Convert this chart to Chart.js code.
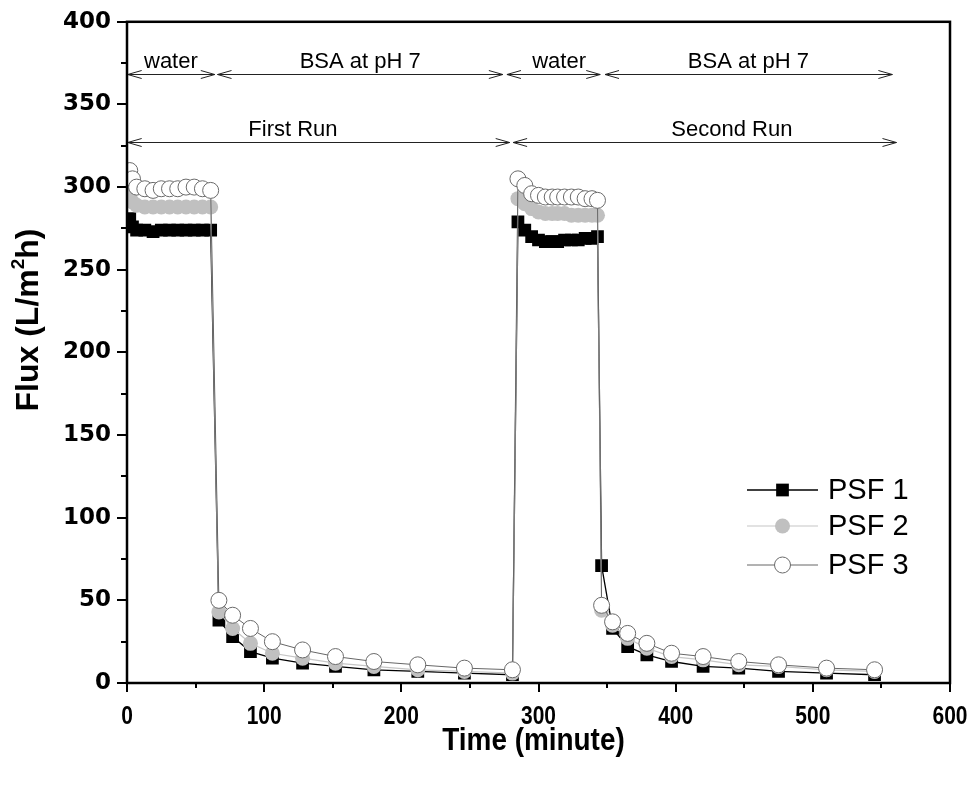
<!DOCTYPE html>
<html>
<head>
<meta charset="utf-8">
<script src="https://cdn.jsdelivr.net/npm/chart.js@4.4.0/dist/chart.umd.min.js"></script>
<style>
  html, body { margin: 0; padding: 0; background: #fff; }
</style>
</head>
<body>
<canvas id="fluxChart" width="975" height="787"></canvas>
<script>
// sampling times (minute), shared by the three membranes
var timeMin = [2, 4, 7, 13, 19, 25, 31, 37, 43, 49, 55, 61,
  67, 77, 90, 106, 128, 152, 180, 212, 246, 281,
  285, 290, 295, 300, 305, 310, 314, 319, 324, 329, 334, 339, 343,
  346, 354, 365, 379, 397, 420, 446, 475, 510, 545];

// flux (L/m2h)
var psf1 = [281, 276, 274, 274, 273, 274, 274, 274, 274, 274, 274, 274,
  38, 28, 19, 15, 12, 10, 8, 7, 6, 5,
  279, 274, 270, 268, 267, 267, 267, 268, 268, 268, 269, 269, 270,
  71, 33, 22, 17, 13, 10, 9, 7, 6, 5];
var psf2 = [295, 291, 289, 288, 288, 288, 288, 288, 288, 288, 288, 288,
  43, 33, 24, 18, 15, 12, 10, 8, 7, 6,
  293, 290, 287, 285, 284, 284, 284, 284, 283, 283, 283, 283, 283,
  44, 35, 27, 21, 16, 14, 11, 10, 8, 7];
var psf3 = [310, 305, 300, 299, 298, 299, 299, 299, 300, 300, 299, 298,
  50, 41, 33, 25, 20, 16, 13, 11, 9, 8,
  305, 301, 296, 295, 294, 294, 294, 294, 294, 294, 293, 293, 292,
  47, 37, 30, 24, 18, 16, 13, 11, 9, 8];
var seriesNames = ['PSF 1', 'PSF 2', 'PSF 3'];

var xTickValues = [0, 100, 200, 300, 400, 500, 600];
var yTickValues = [0, 50, 100, 150, 200, 250, 300, 350, 400];

// stage arrows drawn over the plot (minute / flux units)
var stageLabels = ['water', 'BSA at pH 7', 'First Run', 'water', 'BSA at pH 7', 'Second Run'];
var stageFrom = [0.5, 66, 0.5, 277, 348.5, 281.5];
var stageTo = [64, 274, 279, 345, 558, 561];
var stageLevel = [368.5, 368.5, 327, 368.5, 368.5, 327];
var stageTextAt = [32, 170, 121, 315, 453, 441];

function toPoints(ys) {
  return ys.map(function(y, i) { return {x: timeMin[i], y: y}; });
}

// squeezed text, the figure uses a narrow bold face on the x axis
function narrowText(ctx, text, x, y, font, squeeze) {
  ctx.save();
  ctx.font = font;
  ctx.translate(x, y);
  ctx.scale(squeeze, 1);
  ctx.textAlign = 'center';
  ctx.textBaseline = 'middle';
  ctx.fillText(text, 0, 0);
  ctx.restore();
}

var frameAndTicks = {
  id: 'frameAndTicks',
  afterDraw: function(chart) {
    var ctx = chart.ctx, a = chart.chartArea;
    var xs = chart.scales.x, ys = chart.scales.y;
    ctx.save();
    ctx.strokeStyle = '#000';
    ctx.lineWidth = 2;
    ctx.beginPath();
    for (var v = 0; v <= 600; v += 50) {
      var px = Math.round(xs.getPixelForValue(v));
      var len = (v % 100 === 0) ? 9 : 5;
      ctx.moveTo(px, a.bottom); ctx.lineTo(px, a.bottom + len);
    }
    for (var w = 0; w <= 400; w += 25) {
      var py = Math.round(ys.getPixelForValue(w));
      var l2 = (w % 50 === 0) ? 10 : 6;
      ctx.moveTo(a.left, py); ctx.lineTo(a.left - l2, py);
    }
    ctx.stroke();
    ctx.lineWidth = 2.5;
    ctx.strokeRect(a.left, a.top, a.right - a.left, a.bottom - a.top);

    // x tick labels and title
    ctx.fillStyle = '#000';
    xTickValues.forEach(function(t) {
      narrowText(ctx, String(t), xs.getPixelForValue(t), a.bottom + 34,
        'bold 25px "Liberation Sans", Arial, sans-serif', 0.84);
    });
    narrowText(ctx, 'Time (minute)', (a.left + a.right) / 2 - 5, a.bottom + 58,
      'bold 31px "Liberation Sans", Arial, sans-serif', 0.9);

    // y title with superscript
    ctx.translate(29, 320);
    ctx.rotate(-Math.PI / 2);
    ctx.textBaseline = 'middle';
    var big = 'bold 32px "Liberation Sans", Arial, sans-serif';
    var small = 'bold 19px "Liberation Sans", Arial, sans-serif';
    var parts = [['Flux (L/m', big, 0], ['2', small, -10], ['h)', big, 0]];
    var total = 0;
    parts.forEach(function(p) { ctx.font = p[1]; total += ctx.measureText(p[0]).width; });
    var cx = -total / 2;
    ctx.textAlign = 'left';
    parts.forEach(function(p) {
      ctx.font = p[1];
      ctx.fillText(p[0], cx, p[2]);
      cx += ctx.measureText(p[0]).width;
    });
    ctx.restore();
  }
};

var stageArrows = {
  id: 'stageArrows',
  afterDatasetsDraw: function(chart) {
    var ctx = chart.ctx;
    var xs = chart.scales.x, ys = chart.scales.y;
    ctx.save();
    ctx.strokeStyle = '#222';
    ctx.lineWidth = 1;
    ctx.fillStyle = '#000';
    ctx.font = '22px "Liberation Sans", Arial, sans-serif';
    ctx.textAlign = 'center';
    ctx.textBaseline = 'alphabetic';
    for (var i = 0; i < stageLabels.length; i++) {
      var x1 = xs.getPixelForValue(stageFrom[i]);
      var x2 = xs.getPixelForValue(stageTo[i]);
      var y = Math.round(ys.getPixelForValue(stageLevel[i])) + 0.5;
      ctx.beginPath();
      ctx.moveTo(x1, y); ctx.lineTo(x2, y);
      ctx.moveTo(x1 + 14, y - 4); ctx.lineTo(x1, y); ctx.lineTo(x1 + 14, y + 4);
      ctx.moveTo(x2 - 14, y - 4); ctx.lineTo(x2, y); ctx.lineTo(x2 - 14, y + 4);
      ctx.stroke();
      ctx.fillText(stageLabels[i], xs.getPixelForValue(stageTextAt[i]), y - 7);
    }
    ctx.restore();
  }
};

var lineLegend = {
  id: 'lineLegend',
  afterDraw: function(chart) {
    var ctx = chart.ctx, a = chart.chartArea;
    var rowY = [490, 526, 565];
    var x0 = a.right - 203, x1 = a.right - 132, xm = (x0 + x1) / 2;
    ctx.save();
    chart.data.datasets.forEach(function(ds, i) {
      var y = rowY[i];
      ctx.strokeStyle = ds.borderColor;
      ctx.lineWidth = ds.borderWidth;
      ctx.beginPath(); ctx.moveTo(x0, y); ctx.lineTo(x1, y); ctx.stroke();
      ctx.fillStyle = ds.pointBackgroundColor;
      ctx.strokeStyle = ds.pointBorderColor;
      Chart.helpers.drawPoint(ctx, {
        pointStyle: ds.pointStyle, radius: ds.pointRadius,
        rotation: 0, borderWidth: ds.pointBorderWidth
      }, xm, y);
      ctx.fillStyle = '#000';
      ctx.font = '29px "Liberation Sans", Arial, sans-serif';
      ctx.textAlign = 'left';
      ctx.textBaseline = 'middle';
      ctx.fillText(ds.label, x1 + 10, y + 1);
    });
    ctx.restore();
  }
};

var ctx = document.getElementById('fluxChart').getContext('2d');
var fluxChart = new Chart(ctx, {
  type: 'line',
  data: {
    datasets: [{
      label: seriesNames[0],
      data: toPoints(psf1),
      borderColor: '#000',
      borderWidth: 1.3,
      pointStyle: 'rect',
      pointRadius: 9,
      pointBackgroundColor: '#000',
      pointBorderColor: '#000',
      pointBorderWidth: 0,
      order: 3
    }, {
      label: seriesNames[1],
      data: toPoints(psf2),
      borderColor: '#c6c6c6',
      borderWidth: 1.2,
      pointStyle: 'circle',
      pointRadius: 7.5,
      pointBackgroundColor: '#c0c0c0',
      pointBorderColor: '#c0c0c0',
      pointBorderWidth: 0,
      order: 2
    }, {
      label: seriesNames[2],
      data: toPoints(psf3),
      borderColor: '#666',
      borderWidth: 1,
      pointStyle: 'circle',
      pointRadius: 8,
      pointBackgroundColor: '#fff',
      pointBorderColor: '#6a6a6a',
      pointBorderWidth: 1,
      order: 1
    }]
  },
  options: {
    responsive: false,
    animation: false,
    events: [],
    layout: { padding: { top: 17, right: 25, left: 0, bottom: 0 } },
    plugins: { legend: { display: false }, tooltip: { enabled: false } },
    elements: { line: { tension: 0 } },
    scales: {
      x: {
        type: 'linear', min: 0, max: 600,
        afterBuildTicks: function(s) { s.ticks = xTickValues.map(function(v) { return {value: v}; }); },
        afterFit: function(s) { s.height = 104; },
        grid: { display: false },
        border: { display: false },
        ticks: { display: false }
      },
      y: {
        type: 'linear', min: 0, max: 400,
        afterBuildTicks: function(s) { s.ticks = yTickValues.map(function(v) { return {value: v}; }); },
        afterFit: function(s) { s.width = 127; },
        grid: { display: false },
        border: { display: false },
        ticks: {
          padding: 8, color: '#000',
          font: { family: '"DejaVu Sans", sans-serif', size: 23, weight: 'bold' }
        }
      }
    }
  },
  plugins: [frameAndTicks, stageArrows, lineLegend]
});
</script>
</body>
</html>
